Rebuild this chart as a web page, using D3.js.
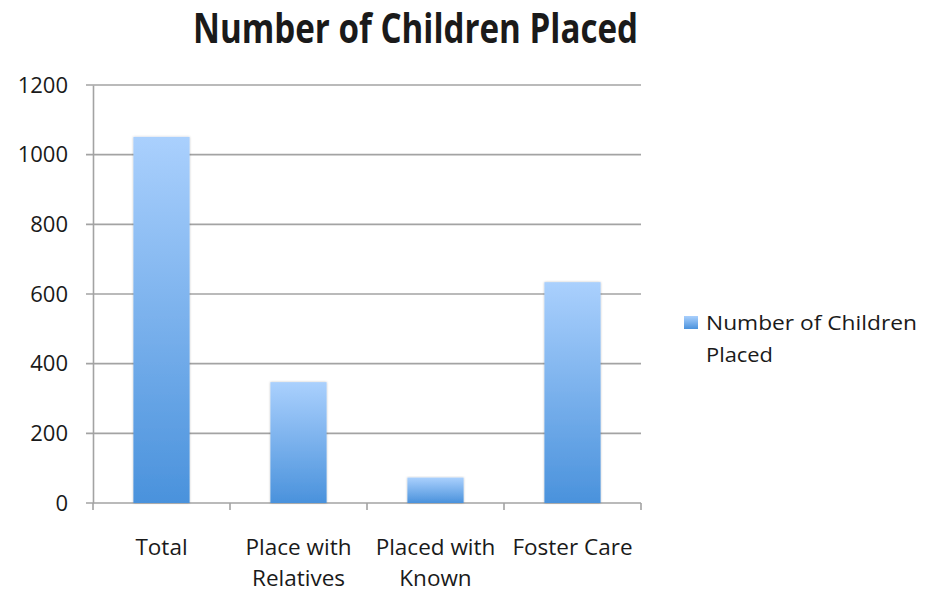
<!DOCTYPE html>
<html>
<head>
<meta charset="utf-8">
<script src="https://cdn.jsdelivr.net/npm/d3@7"></script>
<style>
  html, body { margin: 0; padding: 0; background: #ffffff; }
  svg { display: block; }
  text { font-family: "Open Sans", "DejaVu Sans", sans-serif; fill: #1a1a1a; }
</style>
</head>
<body>
<svg id="chart" width="925" height="592"></svg>
<script>
const title = "Number of Children Placed";
const categories = ["Total", "Place with Relatives", "Placed with Known", "Foster Care"];
const categoryLines = [["Total"], ["Place with", "Relatives"], ["Placed with", "Known"], ["Foster Care"]];
const values = [1051, 347, 73, 634];
const yTicks = [0, 200, 400, 600, 800, 1000, 1200];
const seriesName = "Number of Children Placed";
const legendLines = ["Number of Children", "Placed"];

const svg = d3.select("#chart");
const plotLeft = 93, plotRight = 641, plotTop = 85, plotBottom = 503;

const x = d3.scaleBand().domain(categories).range([plotLeft, plotRight]).paddingInner(0.59).paddingOuter(0.295);
const y = d3.scaleLinear().domain([0, 1200]).range([plotBottom, plotTop]);

const defs = svg.append("defs");
const grad = defs.append("linearGradient").attr("id", "barGrad")
  .attr("x1", 0).attr("y1", 0).attr("x2", 0).attr("y2", 1);
grad.append("stop").attr("offset", "0%").attr("stop-color", "#aad0fd");
grad.append("stop").attr("offset", "100%").attr("stop-color", "#4a92dc");
const sh = defs.append("filter").attr("id", "shadow").attr("x", "-20%").attr("y", "-5%").attr("width", "140%").attr("height", "110%");
sh.append("feDropShadow").attr("dx", 0).attr("dy", 0).attr("stdDeviation", 1.2).attr("flood-color", "#000").attr("flood-opacity", 0.25);

// gridlines
svg.append("g").selectAll("line").data(yTicks).join("line")
  .attr("x1", plotLeft - 7).attr("x2", plotRight)
  .attr("y1", d => y(d)).attr("y2", d => y(d))
  .attr("stroke", "#a3a3a3").attr("stroke-width", 1.6);

// y axis
const yAxis = svg.append("g").attr("transform", `translate(${plotLeft},0)`)
  .call(d3.axisLeft(y).tickValues(yTicks).tickSize(0).tickPadding(25).tickFormat(d3.format("d")));
yAxis.select(".domain").attr("stroke", "#a3a3a3").attr("stroke-width", 1.6);
yAxis.selectAll("text").attr("font-size", 22).attr("fill", "#1a1a1a")
  .attr("font-family", "'Open Sans', sans-serif");

// x boundary ticks
const bounds = d3.range(categories.length + 1).map(i => plotLeft + i * x.step());
svg.append("g").selectAll("line").data(bounds).join("line")
  .attr("x1", d => d).attr("x2", d => d)
  .attr("y1", plotBottom).attr("y2", plotBottom + 7)
  .attr("stroke", "#a3a3a3").attr("stroke-width", 1.6);

// bars
svg.append("g").selectAll("rect").data(values).join("rect")
  .attr("x", (d, i) => x(categories[i]))
  .attr("y", d => y(d))
  .attr("width", x.bandwidth())
  .attr("height", d => y(0) - y(d))
  .attr("fill", "url(#barGrad)")
  .attr("filter", "url(#shadow)");

// x labels
const xAxis = svg.append("g").attr("transform", `translate(0,${plotBottom})`)
  .call(d3.axisBottom(x).tickSize(0).tickFormat(""));
xAxis.select(".domain").remove();
xAxis.selectAll(".tick text").remove();
xAxis.selectAll(".tick").each(function(d, i) {
  const t = d3.select(this).append("text").attr("text-anchor", "middle")
    .attr("font-size", 22.5).attr("fill", "#1a1a1a");
  categoryLines[i].forEach((ln, j) => {
    t.append("tspan").attr("x", 0).attr("y", 52 + j * 31).text(ln);
  });
});

// title
svg.append("text").attr("x", 415.5).attr("y", 43).attr("text-anchor", "middle")
  .attr("font-size", 41).attr("font-weight", "bold").attr("fill", "#000")
  .attr("textLength", 445).attr("lengthAdjust", "spacingAndGlyphs")
  .text(title);

// legend
const lg = svg.append("g");
lg.append("rect").attr("x", 684).attr("y", 316).attr("width", 14).attr("height", 13)
  .attr("fill", "url(#barGrad)");
const lt = lg.append("text").attr("font-size", 20.5).attr("fill", "#1a1a1a");
lt.append("tspan").attr("x", 706).attr("y", 330).attr("textLength", 211).attr("lengthAdjust", "spacingAndGlyphs").text(legendLines[0]);
lt.append("tspan").attr("x", 706).attr("y", 362).attr("textLength", 67).attr("lengthAdjust", "spacingAndGlyphs").text(legendLines[1]);
</script>
</body>
</html>
